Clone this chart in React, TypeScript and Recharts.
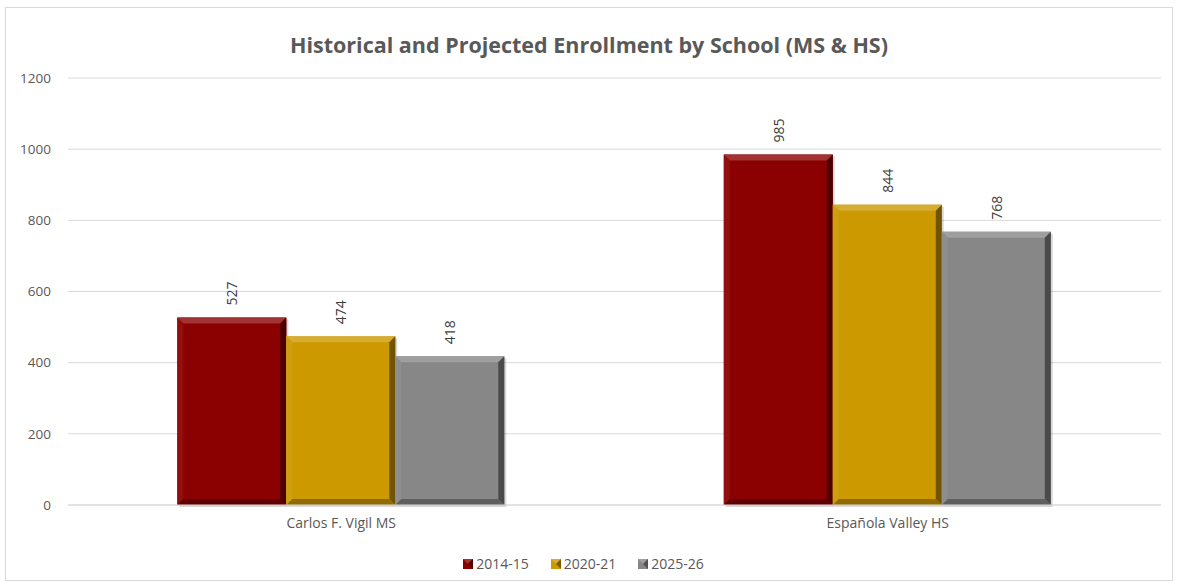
import React from "react";
import { BarChart, Bar, XAxis, YAxis, CartesianGrid, LabelList, Legend } from "recharts";

const categories = ["Carlos F. Vigil MS", "Española Valley HS"];
const series2014 = [527, 985];
const series2020 = [474, 844];
const series2025 = [418, 768];
const seriesNames = ["2014-15", "2020-21", "2025-26"];
const seriesColors = ["#8B0000", "#CC9900", "#878787"];
const yTicks = [0, 200, 400, 600, 800, 1000, 1200];

const data = categories.map((c, i) => ({
  name: c,
  s0: series2014[i],
  s1: series2020[i],
  s2: series2025[i],
}));

function shade(hex: string, amt: number) {
  const n = parseInt(hex.slice(1), 16);
  let r = (n >> 16) & 255, g = (n >> 8) & 255, b = n & 255;
  if (amt >= 0) {
    r = Math.round(r + (255 - r) * amt);
    g = Math.round(g + (255 - g) * amt);
    b = Math.round(b + (255 - b) * amt);
  } else {
    r = Math.round(r * (1 + amt));
    g = Math.round(g * (1 + amt));
    b = Math.round(b * (1 + amt));
  }
  return `rgb(${r},${g},${b})`;
}

const BevelBar = (props: any) => {
  const { x, y, width, height, fill } = props;
  if (!width || !height) return null;
  const d = 6;
  const x2 = x + width, y2 = y + height;
  return (
    <g>
      <rect x={x + 2} y={y + 2} width={width} height={height} fill="rgba(0,0,0,0.15)" />
      <rect x={x} y={y} width={width} height={height} fill={fill} />
      <polygon points={`${x},${y} ${x2},${y} ${x2 - d},${y + d} ${x + d},${y + d}`} fill={shade(fill, 0.2)} />
      <polygon points={`${x},${y} ${x + d},${y + d} ${x + d},${y2 - d} ${x},${y2}`} fill={shade(fill, 0.06)} />
      <polygon points={`${x2},${y} ${x2},${y2} ${x2 - d},${y2 - d} ${x2 - d},${y + d}`} fill={shade(fill, -0.45)} />
      <polygon points={`${x},${y2} ${x + d},${y2 - d} ${x2 - d},${y2 - d} ${x2},${y2}`} fill={shade(fill, -0.3)} />
    </g>
  );
};

const VLabel = (props: any) => {
  const { x, y, width, value } = props;
  const cx = x + width / 2;
  const ty = y - 12;
  return (
    <text
      x={cx}
      y={ty}
      transform={`rotate(-90 ${cx} ${ty})`}
      textAnchor="start"
      dominantBaseline="central"
      fill="#404040"
      fontSize={14}
      fontFamily="'Open Sans', sans-serif"
    >
      {value}
    </text>
  );
};

const LegendContent = () => (
  <div style={{ paddingTop: 19, display: "flex", justifyContent: "center", alignItems: "center", gap: 22, fontFamily: "'Open Sans', sans-serif", fontSize: 14, color: "#595959" }}>
    {seriesNames.map((n, i) => (
      <div key={n} style={{ display: "flex", alignItems: "center", gap: 3 }}>
        <svg width={10} height={10}>
          <rect x={0} y={0} width={10} height={10} fill={seriesColors[i]} />
          <polygon points="0,0 10,0 5,5" fill={shade(seriesColors[i], 0.2)} />
          <polygon points="10,0 10,10 5,5" fill={shade(seriesColors[i], -0.4)} />
        </svg>
        <span>{n}</span>
      </div>
    ))}
  </div>
);

export default function App() {
  return (
    <div style={{ position: "absolute", left: 5, top: 7, width: 1166, height: 572, border: "1px solid #d9d9d9", background: "#fff" }}>
      <div style={{ position: "absolute", left: 0, top: 22, width: "100%", textAlign: "center", fontFamily: "'Open Sans', sans-serif", fontWeight: 700, fontSize: 21.5, color: "#595959" }}>
        Historical and Projected Enrollment by School (MS &amp; HS)
      </div>
      <BarChart
        width={1166}
        height={572}
        data={data}
        margin={{ top: 70, right: 11, bottom: 8, left: 0 }}
        barCategoryGap="20%"
        barGap={0}
      >
        <CartesianGrid vertical={false} stroke="#d9d9d9" />
        <XAxis
          dataKey="name"
          height={30}
          tickLine={false}
          axisLine={{ stroke: "#d9d9d9" }}
          tick={{ fill: "#595959", fontSize: 14, fontFamily: "'Open Sans', sans-serif" }}
          tickMargin={7}
        />
        <YAxis
          width={62}
          domain={[0, 1200]}
          ticks={yTicks}
          axisLine={false}
          tickLine={false}
          tickSize={0}
          tickMargin={17}
          tick={{ fill: "#595959", fontSize: 13.5, fontFamily: "'Open Sans', sans-serif" }}
        />
        <Legend verticalAlign="bottom" height={37} content={<LegendContent />} />
        {["s0", "s1", "s2"].map((k, i) => (
          <Bar key={k} dataKey={k} name={seriesNames[i]} fill={seriesColors[i]} shape={<BevelBar />} isAnimationActive={false}>
            <LabelList dataKey={k} content={<VLabel />} />
          </Bar>
        ))}
      </BarChart>
    </div>
  );
}
